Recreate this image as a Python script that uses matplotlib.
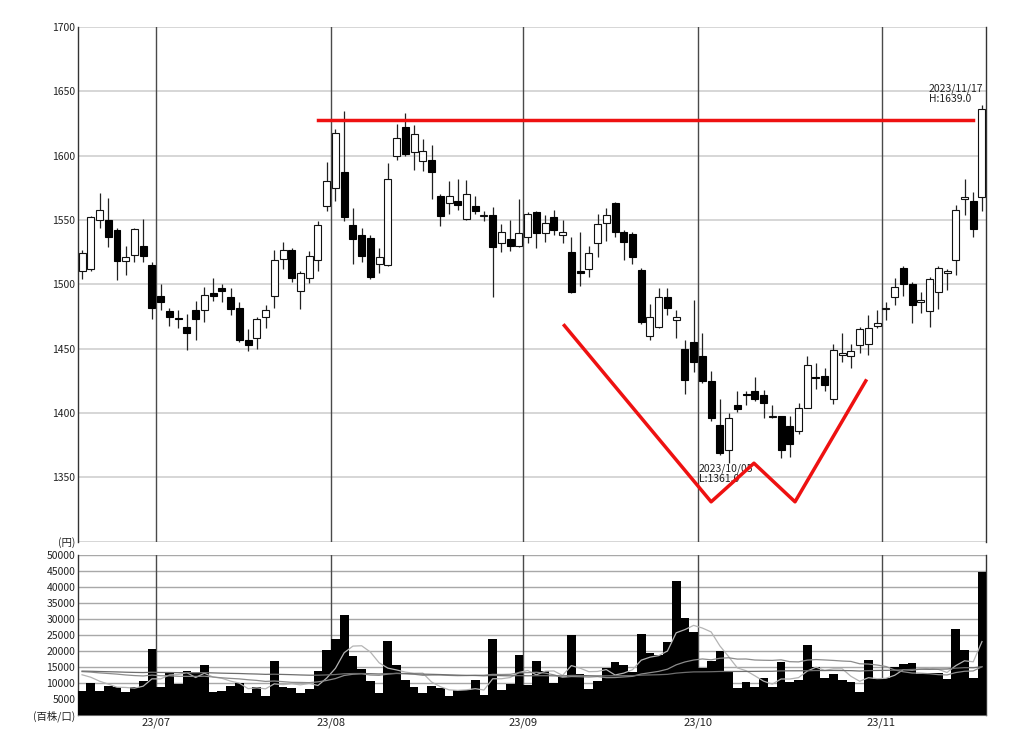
import matplotlib
matplotlib.use("Agg")
import matplotlib.pyplot as plt
import numpy as np
import pandas as pd

plt.rcParams['font.family'] = ['Noto Sans CJK JP', 'DejaVu Sans']

# ---------------- data ----------------
opens = [1510, 1512, 1550, 1550, 1542, 1518, 1523, 1530, 1515,
         1491, 1479, 1474, 1467, 1480, 1480, 1493, 1497, 1490, 1482, 1457,
         1458, 1475, 1491, 1520, 1527, 1495, 1505, 1519, 1561,
         1575, 1587, 1546, 1538, 1536, 1516, 1515, 1600, 1622, 1603, 1596,
         1597, 1569, 1563, 1565, 1551, 1561, 1553, 1554, 1532, 1535, 1530,
         1537, 1556, 1540, 1552, 1538, 1525, 1510, 1512, 1532, 1548,
         1563, 1541, 1539, 1511, 1460, 1467, 1490, 1472, 1450, 1455,
         1444, 1425, 1391, 1371, 1406, 1415, 1417, 1414, 1397, 1398,
         1390, 1386, 1404, 1428, 1429, 1411, 1445, 1444, 1453, 1454, 1468,
         1481, 1490, 1513, 1500, 1486, 1479, 1494, 1509, 1519, 1566, 1565, 1568]
highs = [1527, 1553, 1571, 1567, 1544, 1530, 1544, 1551, 1517,
         1500, 1482, 1480, 1477, 1487, 1498, 1505, 1500, 1497, 1486, 1465,
         1475, 1484, 1527, 1533, 1528, 1510, 1526, 1549, 1595,
         1621, 1635, 1559, 1544, 1538, 1528, 1594, 1625, 1633, 1624, 1613,
         1608, 1570, 1580, 1582, 1581, 1569, 1557, 1560, 1547, 1550, 1566,
         1556, 1557, 1554, 1558, 1550, 1537, 1541, 1530, 1555, 1559,
         1564, 1542, 1541, 1513, 1485, 1497, 1497, 1480, 1457, 1488,
         1462, 1433, 1411, 1400, 1417, 1417, 1428, 1418, 1406, 1398,
         1398, 1408, 1444, 1439, 1435, 1454, 1462, 1454, 1467, 1476, 1480,
         1486, 1505, 1514, 1502, 1494, 1506, 1514, 1512, 1562, 1582, 1572, 1639]
lows = [1504, 1510, 1544, 1529, 1503, 1507, 1517, 1517, 1473,
        1480, 1468, 1466, 1449, 1457, 1471, 1487, 1486, 1476, 1455, 1448,
        1450, 1466, 1482, 1512, 1502, 1481, 1501, 1510, 1557,
        1565, 1549, 1516, 1517, 1504, 1509, 1514, 1597, 1600, 1589, 1588,
        1566, 1545, 1555, 1558, 1550, 1555, 1549, 1490, 1525, 1526, 1529,
        1532, 1528, 1533, 1538, 1532, 1493, 1499, 1506, 1521, 1534,
        1537, 1519, 1516, 1469, 1457, 1466, 1476, 1458, 1415, 1432,
        1423, 1394, 1367, 1361, 1401, 1406, 1409, 1396, 1396, 1365,
        1366, 1384, 1404, 1419, 1417, 1407, 1440, 1435, 1447, 1445, 1466,
        1472, 1484, 1491, 1470, 1478, 1467, 1481, 1496, 1507, 1554, 1537, 1557]
closes = [1524, 1552, 1558, 1537, 1518, 1521, 1543, 1522, 1482,
          1486, 1475, 1473, 1462, 1473, 1492, 1491, 1495, 1481, 1457, 1453,
          1473, 1480, 1519, 1527, 1505, 1509, 1522, 1546, 1580,
          1618, 1552, 1535, 1522, 1506, 1521, 1582, 1614, 1601, 1617, 1604,
          1587, 1553, 1569, 1562, 1570, 1557, 1554, 1529, 1541, 1530, 1540,
          1555, 1540, 1548, 1542, 1541, 1494, 1509, 1524, 1547, 1554,
          1541, 1533, 1521, 1471, 1475, 1490, 1482, 1475, 1426, 1440,
          1425, 1396, 1369, 1396, 1403, 1414, 1411, 1408, 1397, 1371,
          1376, 1404, 1437, 1427, 1422, 1449, 1447, 1448, 1465, 1466, 1470,
          1482, 1498, 1500, 1484, 1488, 1504, 1513, 1510, 1558, 1568, 1543, 1636]
volumes = [7650, 9950, 7650, 9200, 8900, 7300, 8900, 10700, 20650,
           8900, 13300, 9650, 13600, 13100, 15700, 7300, 7650, 9200, 9950,
           7000, 8700, 6000, 17000, 8700, 8400, 7000, 8200, 13800, 20300,
           23600, 31400, 18550, 14360, 10480, 6800, 23050, 15700, 11000, 8700,
           7000, 9200, 8400, 6000, 7860, 7860, 11000, 6300, 23600, 7860,
           9750, 18900, 9430, 16800, 13600, 10100, 11800, 24900, 12800, 8070,
           10480, 14700, 16450, 15700, 13400, 25400, 19400, 18900, 22850,
           41900, 30400, 26000, 14700, 16800, 20100, 13600, 8400, 10300,
           8900, 11700, 8900, 16450, 10300, 11000, 22000, 14900, 11500,
           12800, 11000, 10300, 7100, 17100, 11300, 11500, 15000, 16000,
           16250, 12800, 13100, 13100, 11200, 26900, 20400, 11500, 44750]
vol_prior_level = 13800          # average level of volume before the first bar
ma_windows = [5, 25, 75]
ma_colors = ['#b4b4b4', '#8c8c8c', '#6e6e6e']

month_labels = ['23/07', '23/08', '23/09', '23/10', '23/11']
month_first_idx = [9, 29, 51, 71, 92]

price_ticks = [1350, 1400, 1450, 1500, 1550, 1600, 1650, 1700]
vol_ticks = [5000, 10000, 15000, 20000, 25000, 30000, 35000, 40000, 45000, 50000]

resistance_price = 1628
resistance_span = [27.0, 102.0]
pattern_x = [55.2, 72.0, 76.9, 81.6, 89.7]
pattern_y = [1468, 1331, 1361, 1331, 1425]

high_note = "2023/11/17\nH:1639.0"
high_note_pos = (96.9, 1648)
low_note = "2023/10/05\nL:1361.0"
low_note_pos = (70.6, 1353)

# ---------------- figure ----------------
fig = plt.figure(figsize=(10.24, 7.44), dpi=100)
ax1 = fig.add_axes([0.0762, 0.2719, 0.8867, 0.6918])
ax2 = fig.add_axes([0.0762, 0.0390, 0.8867, 0.2150])

n = len(opens)
x = np.arange(n)
o = np.array(opens, float); c = np.array(closes, float)
h = np.array(highs, float); l = np.array(lows, float)

xlim = (-0.46, 103.46)
for ax in (ax1, ax2):
    ax.set_xlim(*xlim)
    for s in ('top',):
        ax.spines[s].set_visible(False)
    for s in ('left', 'right'):
        ax.spines[s].set_color('#333333')
        ax.spines[s].set_linewidth(1.0)
    ax.tick_params(axis='both', length=0, labelsize=7.5, colors='#222222', pad=2)
    for m in month_first_idx:
        ax.axvline(m - 0.5, color='#4a4a4a', lw=1.0, zorder=2)

ax1.spines['bottom'].set_visible(False)
ax2.spines['bottom'].set_color('#666666')

# price panel
ax1.set_ylim(1300, 1700)
for yv in [1300] + price_ticks:
    ax1.axhline(yv, color='#cfcfcf', lw=1.2, zorder=1)
ax1.set_yticks([1300] + price_ticks)
ax1.set_yticklabels(['(円)'] + [str(t) for t in price_ticks])
ax1.set_xticks([])

ax1.vlines(x, l, h, color='#222222', lw=0.9, zorder=3)
up = c >= o
body_bottom = np.minimum(o, c)
body_h = np.maximum(np.abs(c - o), 0.8)
ax1.bar(x[up], body_h[up], bottom=body_bottom[up], width=0.8,
        color='white', edgecolor='#111111', linewidth=0.8, zorder=4)
ax1.bar(x[~up], body_h[~up], bottom=body_bottom[~up], width=0.8,
        color='black', edgecolor='black', linewidth=0.8, zorder=4)

ax1.plot(resistance_span, [resistance_price, resistance_price], color='#ee1111', lw=2.5, zorder=6)
ax1.plot(pattern_x, pattern_y, color='#ee1111', lw=2.5, zorder=6)

ax1.text(*high_note_pos, high_note, fontsize=7.5, color='#222222', ha='left', va='center',
         linespacing=1.05, zorder=7)
ax1.text(*low_note_pos, low_note, fontsize=7.5, color='#222222', ha='left', va='center',
         linespacing=1.05, zorder=5)

# volume panel
ax2.set_ylim(0, 50000)
for yv in vol_ticks:
    ax2.axhline(yv, color='#a8a8a8', lw=1.0, zorder=1)
ax2.set_yticks([0] + vol_ticks)
ax2.set_yticklabels(['(百株/口)'] + [str(t) for t in vol_ticks])
ax2.bar(x, volumes, width=1.0, color='black', linewidth=0, zorder=3)

vol_series = pd.Series([vol_prior_level] * (max(ma_windows) - 1) + volumes, dtype=float)
for w, col in zip(ma_windows, ma_colors):
    ma = vol_series.rolling(w, min_periods=1).mean().values[max(ma_windows) - 1:]
    ax2.plot(x, ma, color=col, lw=0.9, zorder=4)

ax2.set_xticks([m - 0.5 for m in month_first_idx])
ax2.set_xticklabels(month_labels, fontsize=8)

fig.savefig('out.png', dpi=100)
